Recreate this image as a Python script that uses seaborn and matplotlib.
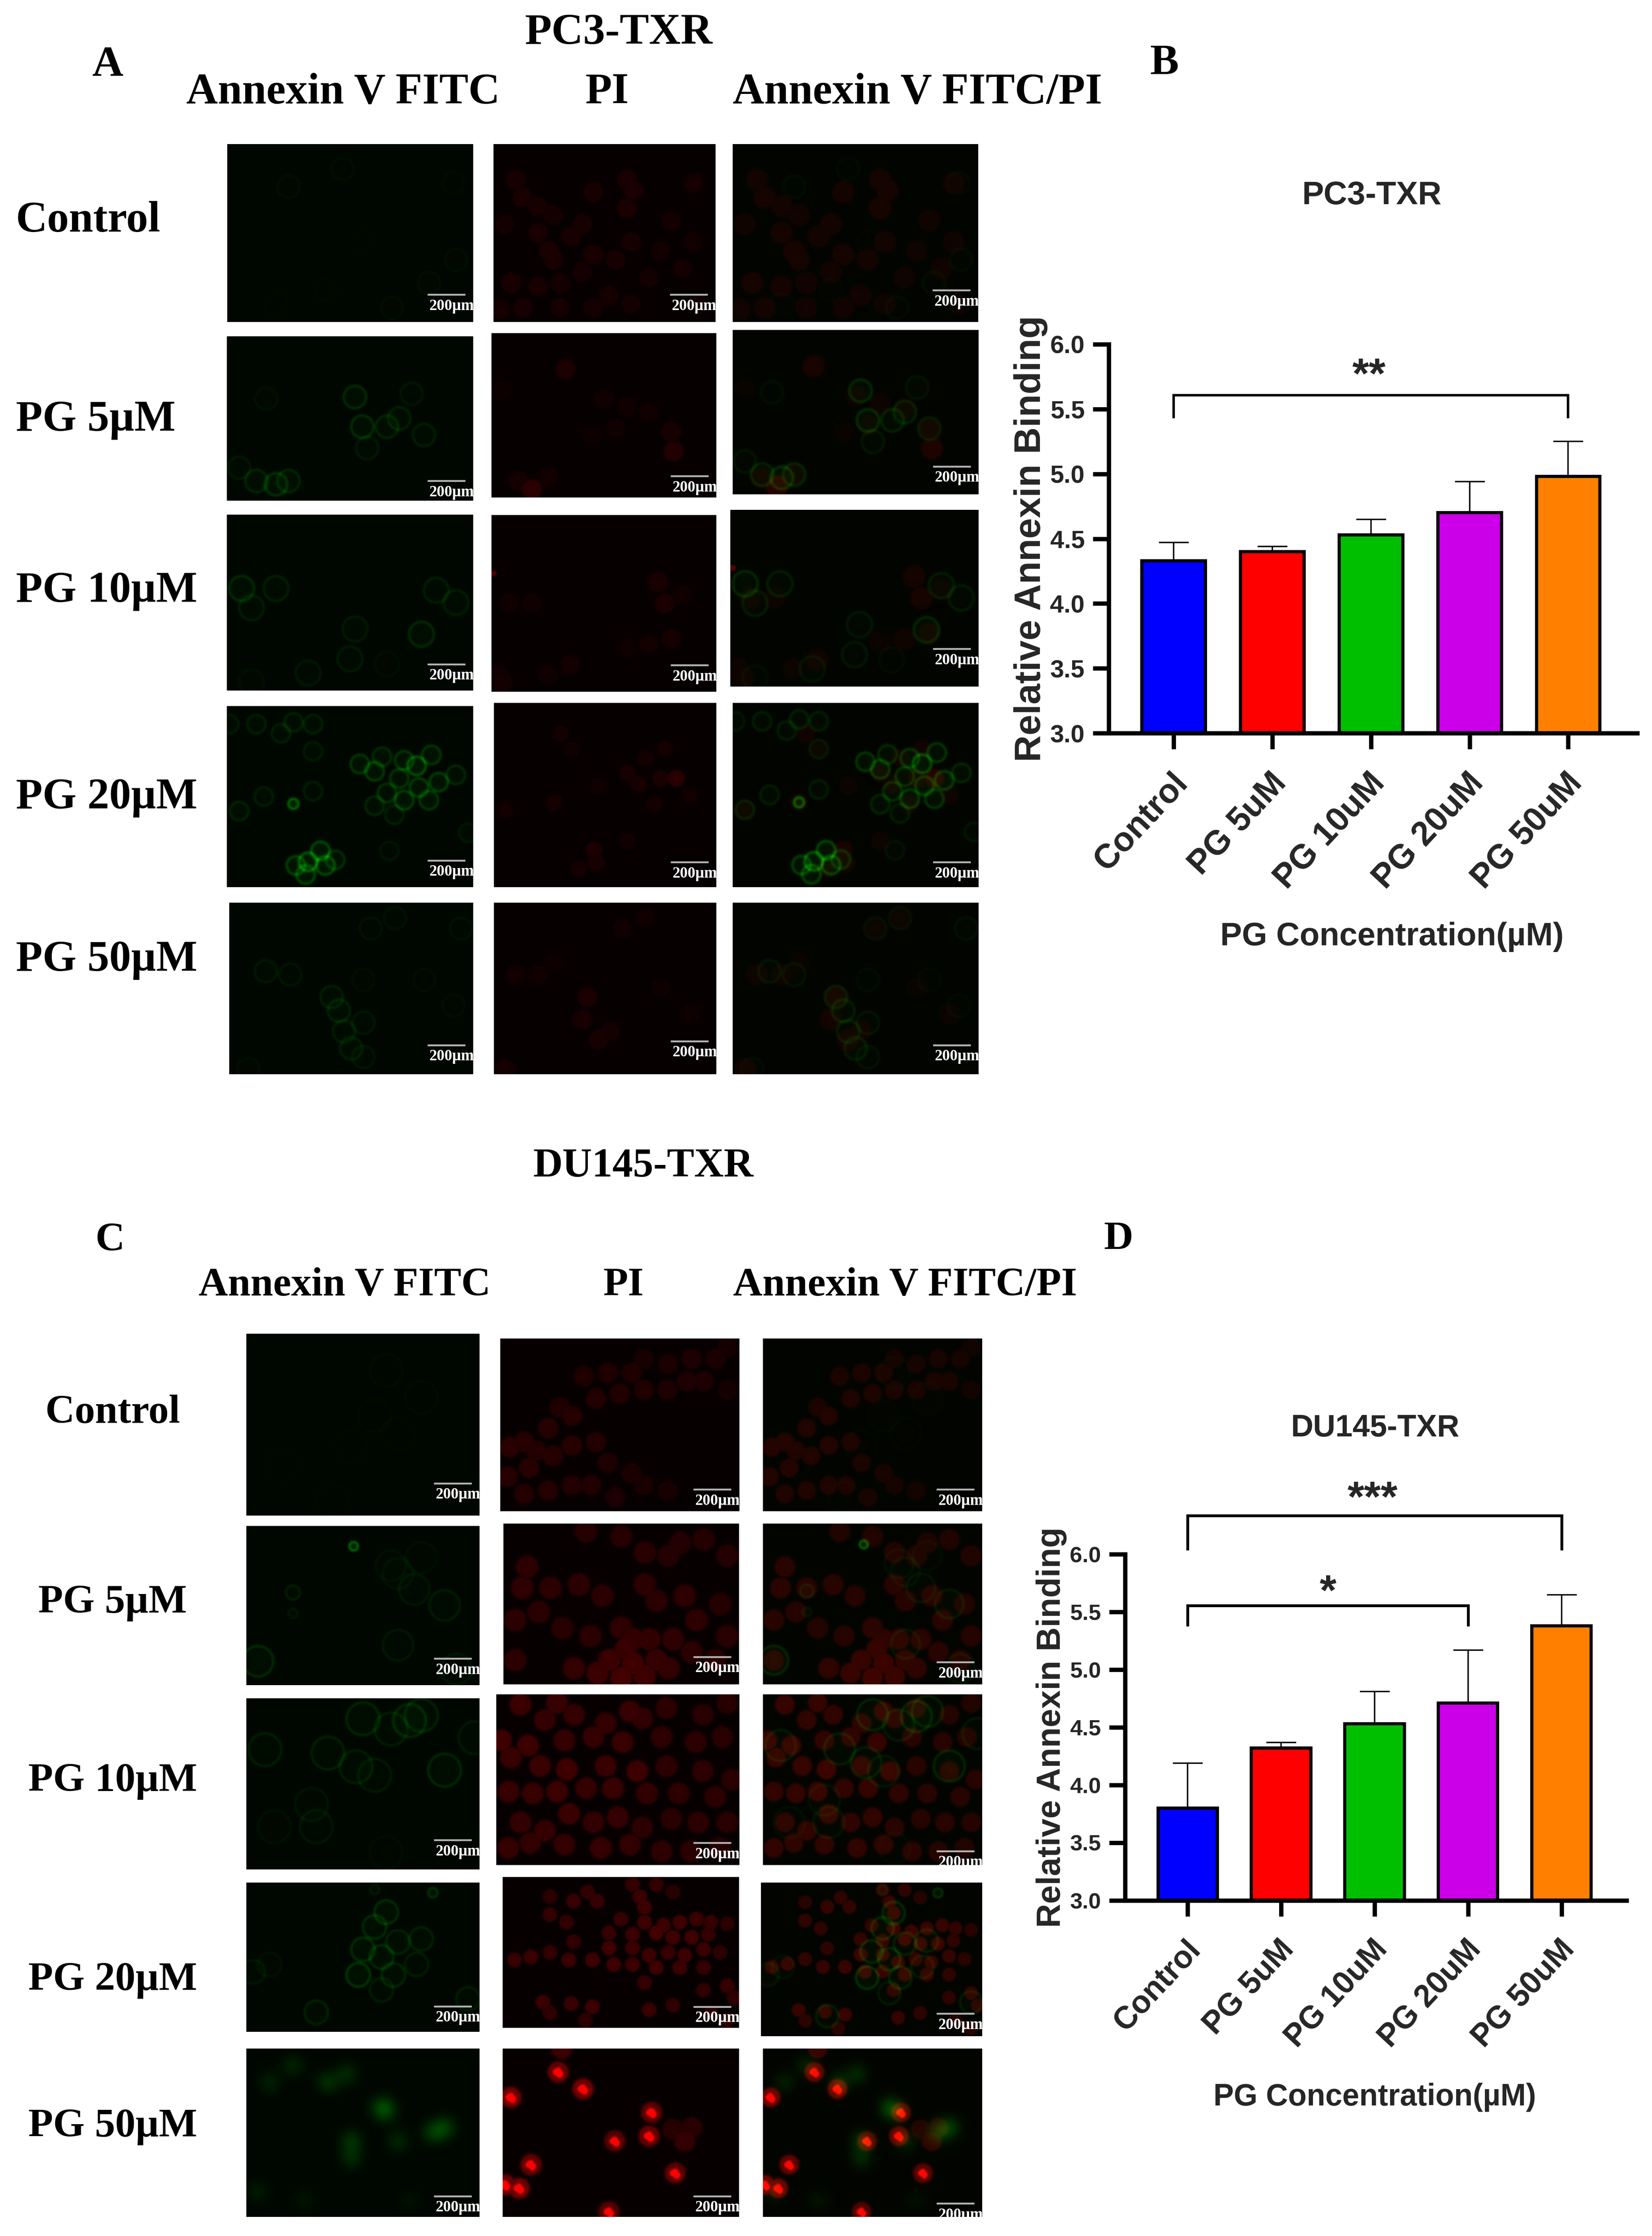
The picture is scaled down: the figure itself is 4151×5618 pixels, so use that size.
import numpy as np
import matplotlib
matplotlib.use("Agg")
import matplotlib.pyplot as plt
from matplotlib.transforms import ScaledTranslation
import seaborn as sns

## bar chart values
groups = ["Control", "PG 5uM", "PG 10uM", "PG 20uM", "PG 50uM"]
bar_colors = ["#0000FF", "#FF0000", "#00BF00", "#CB00E8", "#FF8000"]
pc3_means = [4.33, 4.40, 4.53, 4.70, 4.98]
pc3_errs = [0.14, 0.04, 0.12, 0.24, 0.27]
du_means = [3.80, 4.32, 4.53, 4.71, 5.38]
du_errs = [0.39, 0.05, 0.28, 0.46, 0.27]
y_ticks = [3.0, 3.5, 4.0, 4.5, 5.0, 5.5, 6.0]

row_names = ["Control", "PG 5µM", "PG 10µM", "PG 20µM", "PG 50µM"]

## micrograph panels: (x, y, level[, radius]) as panel fractions
pc3_red = [
    [(.10,.2,30),(.13,.3,34),(.45,.27,32),(.6,.2,34),(.63,.26,36),(.9,.22,28),(.2,.35,30),(.27,.4,28),(.05,.45,26),
     (.4,.45,30),(.2,.5,34),(.35,.52,30),(.25,.6,36),(.45,.62,34),(.6,.36,36),(.8,.43,26),(.62,.55,30),(.27,.65,34),
     (.55,.65,30),(.08,.78,34),(.2,.8,32),(.3,.78,28),(.4,.72,28),(.52,.85,28),(.7,.75,24),(.85,.7,24),(.13,.92,30),
     (.03,.93,28),(.3,.92,28),(.45,.92,26),(.62,.9,24),(.9,.55,22),(.92,.9,22),(.75,.6,22)],
    [(.33,.22,38),(.8,.6,30),(.81,.72,48),(.18,.95,65),(.12,.9,28),(.5,.4,18),(.6,.45,20),(.7,.48,20),(.55,.58,18),
     (.25,.88,22),(.05,.35,12),(.45,.62,14)],
    [(.01,.33,130,.012),(.74,.38,34),(.77,.5,36),(.8,.7,28),(.7,.73,24),(.35,.85,24),(.05,.95,26),(.03,.9,20),
     (.08,.5,20),(.18,.5,18),(.6,.75,16),(.85,.45,18),(.25,.9,18)],
    [(.82,.41,62),(.75,.41,36),(.6,.38,30),(.65,.44,30),(.77,.25,26),(.3,.17,24),(.35,.25,18),(.47,.45,18),
     (.27,.54,26),(.05,.58,22),(.45,.8,38),(.46,.87,30),(.38,.9,26),(.6,.75,20),(.68,.3,24),(.72,.55,24),(.88,.5,22)],
    [(.1,.42,22),(.2,.42,20),(.42,.55,36),(.4,.68,32),(.47,.8,30),(.52,.75,24),(.05,.97,28),(.58,.15,18),(.68,.09,18),
     (.75,.5,14),(.88,.65,16),(.27,.35,14)],
]
pc3_green = [
    [(.47,.14,14),(.25,.24,16),(.92,.22,12),(.93,.65,16),(.82,.78,18),(.67,.92,16),(.4,.82,8),(.2,.9,8),(.55,.55,6)],
    [(.52,.37,62),(.55,.55,66),(.65,.55,52),(.7,.5,48),(.8,.6,40),(.57,.68,34),(.2,.9,70),(.12,.88,52),(.25,.88,54),
     (.05,.8,30),(.75,.35,28),(.16,.38,20)],
    [(.06,.42,62),(.2,.42,44),(.1,.53,40),(.85,.43,40),(.93,.5,38),(.79,.68,60),(.52,.65,34),(.5,.82,34),(.33,.9,30),
     (.1,.95,18),(.65,.85,16)],
    [(.54,.32,82),(.6,.36,88),(.63,.28,64),(.72,.3,82),(.77,.33,120),(.83,.27,82),(.7,.4,78),(.78,.45,90),(.86,.42,92),
     (.65,.48,70),(.72,.52,92),(.82,.52,80),(.6,.55,56),(.93,.38,60),(.33,.86,130),(.38,.8,110),(.4,.88,110),
     (.28,.88,96),(.32,.93,100),(.44,.85,70),(.27,.09,46),(.35,.1,46),(.22,.15,42),(.12,.1,42),(.35,.25,36),
     (.27,.54,150,.02),(.15,.5,42),(.05,.58,48),(.35,.47,40),(.68,.6,44),(.01,.1,34),(.98,.7,30),(.66,.8,26)],
    [(.15,.4,32),(.25,.42,26),(.42,.55,42),(.45,.63,46),(.47,.75,38),(.55,.7,30),(.5,.85,40),(.55,.9,26),(.58,.15,22),
     (.68,.09,22),(.95,.15,22),(.55,.45,16),(.8,.45,14),(.92,.6,14),(.08,.97,16)],
]
du_red = [
    [(.35,.22,34),(.45,.2,34),(.55,.2,34),(.8,.12,30),(.7,.15,28),(.9,.12,28),(.85,.25,32),(.7,.3,32),(.6,.3,34),
     (.5,.32,36),(.4,.35,38),(.3,.45,42),(.2,.52,42),(.1,.6,44),(.04,.63,46),(.03,.8,44),(.12,.75,44),(.22,.68,42),
     (.3,.62,42),(.4,.6,38),(.45,.72,32),(.55,.78,30),(.6,.85,26),(.1,.9,40),(.2,.88,40),(.3,.85,38),(.38,.85,36),
     (.48,.92,30),(.7,.88,24),(.25,.4,34),(.95,.3,22),(.15,.65,40),(.6,.12,24),(.78,.25,32),(.95,.05,22)],
    [(.35,.05,40),(.5,.08,42),(.6,.18,44),(.7,.2,40),(.75,.12,38),(.85,.1,40),(.95,.2,40),(.92,.5,42),(.1,.27,52),
     (.08,.4,54),(.2,.4,50),(.32,.38,50),(.42,.45,48),(.6,.38,50),(.65,.48,48),(.77,.45,52),(.05,.6,50),(.15,.55,46),
     (.25,.65,44),(.37,.7,48),(.5,.65,54),(.55,.72,60),(.62,.72,58),(.72,.72,54),(.82,.6,52),(.95,.7,46),(.52,.78,66),
     (.45,.85,70),(.55,.87,76),(.65,.85,62),(.3,.9,60),(.4,.93,70),(.5,.96,80),(.6,.95,72),(.7,.9,58),(.8,.8,50),
     (.9,.85,46),(.05,.85,50)],
    [(.1,.06,70),(.25,.05,66),(.32,.12,62),(.2,.15,62),(.55,.1,66),(.6,.14,58),(.45,.17,60),(.7,.08,50),(.85,.12,46),
     (.95,.05,44),(.02,.27,74),(.13,.3,72),(.28,.27,62),(.4,.25,62),(.52,.28,66),(.68,.25,52),(.82,.28,50),(.93,.25,46),
     (.06,.37,66),(.18,.42,68),(.29,.44,76),(.45,.42,66),(.58,.45,72),(.7,.42,52),(.85,.45,52),(.97,.5,48),(.05,.57,64),
     (.15,.58,64),(.25,.57,70),(.37,.55,62),(.48,.55,66),(.62,.58,58),(.75,.58,52),(.9,.6,50),(.1,.75,60),(.2,.8,62),
     (.3,.7,68),(.4,.75,58),(.5,.72,62),(.6,.78,52),(.72,.73,48),(.83,.75,50),(.95,.75,46),(.05,.9,62),(.14,.87,58),
     (.28,.88,60),(.43,.9,62),(.55,.88,58),(.68,.92,52),(.8,.92,48),(.92,.9,44)],
    [(.2,.13,50),(.3,.16,66),(.36,.1,58),(.4,.16,62),(.55,.05,60),(.58,.13,70),(.65,.05,60),(.6,.2,72),(.72,.1,46),
     (.2,.25,60),(.27,.3,58),(.5,.28,64),(.6,.3,76),(.68,.32,74),(.75,.3,76),(.82,.28,70),(.88,.3,62),(.95,.31,50),
     (.45,.37,64),(.55,.38,72),(.65,.37,80),(.72,.4,76),(.8,.4,78),(.87,.38,60),(.3,.43,56),(.45,.47,76),(.55,.47,70),
     (.62,.52,72),(.7,.5,64),(.77,.52,72),(.85,.48,68),(.92,.5,50),(.12,.53,70),(.2,.5,60),(.05,.55,66),(.28,.55,70),
     (.38,.55,72),(.47,.58,74),(.55,.58,72),(.65,.6,74),(.75,.6,70),(.85,.6,60),(.6,.7,62),(.85,.75,56),(.95,.72,62),
     (.17,.83,68),(.29,.84,66),(.38,.86,72),(.2,.9,54),(.62,.88,66),(.72,.85,56),(.98,.8,56),(.88,.9,48),(.35,.95,50),
     (.95,.95,50)],
    [(.235,.14,120),(.34,.24,130),(.035,.29,130),(.63,.38,110),(.475,.55,100),(.62,.52,120),(.77,.55,60),(.8,.47,46),
     (.72,.48,44),(.12,.69,120),(.73,.74,110),(.01,.81,130),(.07,.83,130),(.45,.97,100),(.25,.0,70)],
]
du_green = [
    [(.6,.2,12),(.55,.45,10),(.75,.35,10),(.45,.62,7),(.65,.55,8),(.37,.92,8),(.15,.72,6)],
    [(.46,.13,150,.018),(.72,.4,30),(.2,.42,40,.03),(.05,.85,62),(.85,.5,38),(.65,.75,32),(.9,.9,30),(.2,.55,30,.02),
     (.62,.25,20),(.75,.2,18),(.65,.3,20)],
    [(.5,.12,56),(.7,.13,58),(.75,.1,50),(.08,.3,42),(.35,.32,46),(.47,.4,42),(.55,.45,34),(.85,.42,58),(.62,.18,40),
     (.3,.75,30),(.28,.62,26),(.12,.75,20),(.98,.23,34),(.6,.9,14)],
    [(.55,.3,62),(.6,.2,66),(.5,.45,66),(.58,.5,60),(.65,.4,52),(.75,.38,48),(.48,.62,78),(.63,.62,54),(.73,.55,40),
     (.58,.72,38),(.1,.55,22),(.8,.07,70,.02),(.3,.87,46),(.95,.78,40),(.03,.6,30),(.55,.05,34,.02)],
    [(.35,.2,46),(.43,.15,40),(.58,.35,54),(.6,.37,44),(.85,.47,60),(.8,.5,54),(.45,.55,50),(.2,.1,34),(.45,.65,40),
     (.1,.2,30),(.65,.55,36),(.05,.85,24),(.25,.9,18),(.7,.9,14)],
]
du_spots = [(.235,.14),(.34,.24),(.035,.29),(.63,.38),(.475,.55),(.62,.52),(.12,.69),(.73,.74),(.01,.81),(.07,.83),(.45,.97)]
spot_marks = [(-.012,.0),(.01,.008),(.0,-.012),(.006,.018),(-.004,.004)]

# radius of a cell in each row, as share of the panel width
pc3_radius = [.042, .042, .042, .036, .042]
du_radius = [.04, .045, .042, .029, .042]
pc3_ring = [.045, .045, .05, .037, .045]
du_ring = [.07, .065, .07, .05, .05]

# panel boxes in image pixels, x0 x1 y0 y1, by row then column
pc3_boxes = [
    [(571,1189,362,809),(1240,1798,362,809),(1841,2458,362,809)],
    [(570,1189,845,1258),(1235,1800,837,1250),(1841,2459,829,1242)],
    [(570,1189,1293,1735),(1235,1800,1294,1738),(1835,2459,1281,1725)],
    [(570,1189,1774,2229),(1241,1800,1766,2229),(1841,2459,1766,2229)],
    [(576,1189,2268,2699),(1241,1800,2268,2699),(1841,2459,2268,2699)],
]
du_boxes = [
    [(619,1205,3351,3808),(1257,1857,3363,3797),(1917,2468,3363,3797)],
    [(619,1205,3834,4234),(1265,1857,3828,4232),(1917,2468,3828,4232)],
    [(619,1205,4267,4697),(1247,1857,4257,4686),(1917,2468,4257,4686)],
    [(619,1205,4730,5105),(1263,1857,4716,5095),(1912,2468,4730,5116)],
    [(619,1205,5147,5570),(1263,1857,5147,5570),(1917,2468,5147,5570)],
]
# height of the scale bar inside each panel
pc3_bar_y = [[.846,.846,.822],[.88,.87,.83],[.85,.85,.787],[.852,.865,.865],[.83,.807,.83]]
du_bar_y = [[.822,.874,.874],[.833,.829,.862],[.828,.87,.918],[.829,.859,.853],[.877,.877,.92]]

W, H = 4151, 5618

sns.set_style("ticks")
plt.rcParams["font.family"] = ["Liberation Sans", "DejaVu Sans"]
fig = plt.figure(figsize=(W / 300, H / 300), dpi=300, facecolor="white")


def channel(cells, w, h, radius, kind, gain=1.0):
    nx, ny = int(w / 2), int(h / 2)
    X, Y = np.meshgrid((np.arange(nx) + .5) / nx, (np.arange(ny) + .5) / ny)
    out = np.zeros((ny, nx))
    for c in cells:
        r = c[3] if len(c) > 3 else radius
        d = np.hypot(X - c[0], (Y - c[1]) * h / w)
        if kind == "red":
            # nuclei stay separate, brightest one wins
            out = np.maximum(out, c[2] * gain * (.75 * np.exp(-(d / r) ** 4) + .3 * np.exp(-((d - .9 * r) / (.2 * r)) ** 2)))
        elif kind == "blob":
            out += c[2] * .75 * np.exp(-(d / r) ** 2)
        elif kind == "spot":
            out += c[2] * np.exp(-(d / r) ** 2)
        else:
            # thin membrane line, barely filled inside
            out += c[2] * .5 * (np.exp(-((d - r) / .007) ** 2) + .3 * np.exp(-(d / r) ** 4))
    return out


def micrograph(box, red, green, col, bar_y):
    x0, x1, y0, y1 = box
    w, h = x1 - x0, y1 - y0
    ax = fig.add_axes([x0 / W, 1 - y1 / H, w / W, h / H])
    base = [(0, 6, 0), (6, 0, 1), (2, 4, 0)][col]
    img = np.zeros((int(h / 2), int(w / 2), 3))
    img[..., 0], img[..., 1], img[..., 2] = base
    if col != 1:
        img[..., 1] += green
    if col != 0:
        img[..., 0] += red
    ax.imshow(np.clip(img, 0, 255).astype(np.uint8), extent=[0, w, h, 0], aspect="auto", interpolation="bilinear")
    ax.axis("off")
    by = bar_y * h
    ax.plot([w - 115, w - 20], [by, by], color="#b5b5b5", lw=1.1, solid_capstyle="butt")
    ax.text(w + 2, by + 29, "200µm", color="white", ha="right", va="center", fontsize=9.3,
            family="Liberation Serif", weight="bold", clip_on=True)


def micro_block(boxes, reds, greens, radii, rings, bar_ys, red_gain, spots=None):
    for i in range(5):
        for j in range(3):
            w = boxes[i][j][1] - boxes[i][j][0]
            h = boxes[i][j][3] - boxes[i][j][2]
            red = channel(reds[i], w, h, radii[i], "red", red_gain)
            if spots is not None and i == 4:
                green = channel(greens[i], w, h, .05, "blob")
                marks = [(s[0] + m[0], s[1] + m[1], 230) for s in spots for m in spot_marks]
                red = red + channel(marks, w, h, .01, "spot")
            else:
                green = channel(greens[i], w, h, rings[i], "ring")
            micrograph(boxes[i][j], red, green, j, bar_ys[i][j])


def serif(x, y, s, size, ha="center"):
    fig.text(x / W, 1 - (y + 10) / H, s, ha=ha, va="center", fontsize=size, family="Liberation Serif", weight="bold", color="black")


def bar_panel(means, errs, box, xlim, width, tick_size, label_size, ylab_size, xlab_size, title, title_xy, title_size, ylab_xy, xlab_xy):
    x0, x1, y0, y1 = box
    ax = fig.add_axes([x0 / W, 1 - y1 / H, (x1 - x0) / W, (y1 - y0) / H])
    sns.barplot(x=groups, y=means, hue=groups, palette=bar_colors, legend=False, saturation=1, width=width,
                edgecolor="black", linewidth=1.9, ax=ax)
    ax.errorbar(range(5), means, yerr=[np.zeros(5), errs], fmt="none", ecolor="black", elinewidth=.85, capsize=9, capthick=.85, zorder=1)
    ax.set_xlim(*xlim)
    ax.set_ylim(3, 6)
    ax.set_yticks(y_ticks)
    ax.set_yticklabels(["%.1f" % t for t in y_ticks], fontsize=tick_size, weight="bold")
    ax.set_xticks(range(5))
    ax.set_xticklabels(groups, fontsize=label_size, weight="bold", rotation=47, ha="right", rotation_mode="anchor")
    ax.tick_params(axis="both", width=2.6, length=9.5, color="black", pad=5)
    ax.tick_params(axis="x", pad=11)
    shift = ScaledTranslation(-7 / 300, 0, fig.dpi_scale_trans)
    for lab in ax.get_xticklabels():
        lab.set_transform(lab.get_transform() + shift)
    ax.patch.set_alpha(0)
    sns.despine(ax=ax)
    for s in ["left", "bottom"]:
        ax.spines[s].set_linewidth(2.6)
        ax.spines[s].set_color("black")
    fig.text(title_xy[0] / W, 1 - title_xy[1] / H, title, ha="center", va="center", fontsize=title_size, weight="bold")
    fig.text(ylab_xy[0] / W, 1 - ylab_xy[1] / H, "Relative Annexin Binding", rotation=90, ha="center", va="center",
             fontsize=ylab_size, weight="bold")
    fig.text(xlab_xy[0] / W, 1 - xlab_xy[1] / H, "PG Concentration(µM)", ha="center", va="center", fontsize=xlab_size, weight="bold")
    return ax


def bracket(ax, a, b, top, drop, stars, star_x, star_y, lw):
    ax.plot([a, a, b, b], [drop, top, top, drop], color="black", lw=lw, clip_on=False, solid_joinstyle="miter", solid_capstyle="butt")
    ax.text(star_x, star_y, stars, ha="center", va="center", fontsize=26, weight="bold", clip_on=False)


## fluorescence panels
micro_block(pc3_boxes, pc3_red, pc3_green, pc3_radius, pc3_ring, pc3_bar_y, .8)
micro_block(du_boxes, du_red, du_green, du_radius, du_ring, du_bar_y, 1.05, du_spots)

## serif labels, PC3 block
serif(1554, 73, "PC3-TXR", 26.5)
serif(271, 154, "A", 26)
serif(862, 223, "Annexin V FITC", 26.3)
serif(1525, 223, "PI", 26.3)
serif(2305, 223, "Annexin V FITC/PI", 26.3)
for name, y in zip(row_names, [545, 1045, 1475, 1994, 2402]):
    serif(40, y, name, 26.3, ha="left")
serif(2925, 150, "B", 26)

## serif labels, DU145 block
serif(1616, 2921, "DU145-TXR", 24.7)
serif(277, 3107, "C", 24.5)
serif(866, 3220, "Annexin V FITC", 24.5)
serif(1566, 3220, "PI", 24.5)
serif(2274, 3220, "Annexin V FITC/PI", 24.5)
for name, y in zip(row_names, [3541, 4018, 4465, 4965, 5333]):
    serif(283, y, name, 24.5)
serif(2810, 3104, "D", 24.5)

## bar charts
ax_b = bar_panel(pc3_means, pc3_errs, (2786, 4114, 865, 1842), (-.657, 4.70), .645, 15, 20.5, 22.4, 19.6,
                 "PC3-TXR", (3447, 492), 19.7, (2590, 1354), (3498, 2354))
bracket(ax_b, 0, 4, 5.606, 5.43, "**", 1.98, 5.75, 1.5)

ax_d = bar_panel(du_means, du_errs, (2827, 4087, 3905, 4775), (-.669, 4.695), .635, 13.5, 19, 20.1, 18.4,
                 "DU145-TXR", (3456, 3588), 18.7, (2642, 4340), (3454, 5269))
bracket(ax_d, 0, 4, 6.335, 6.035, "***", 1.98, 6.47, 1.7)
bracket(ax_d, 0, 3, 5.556, 5.376, "*", 1.5, 5.66, 1.7)

fig.savefig("out.png", dpi=300, facecolor="white")
